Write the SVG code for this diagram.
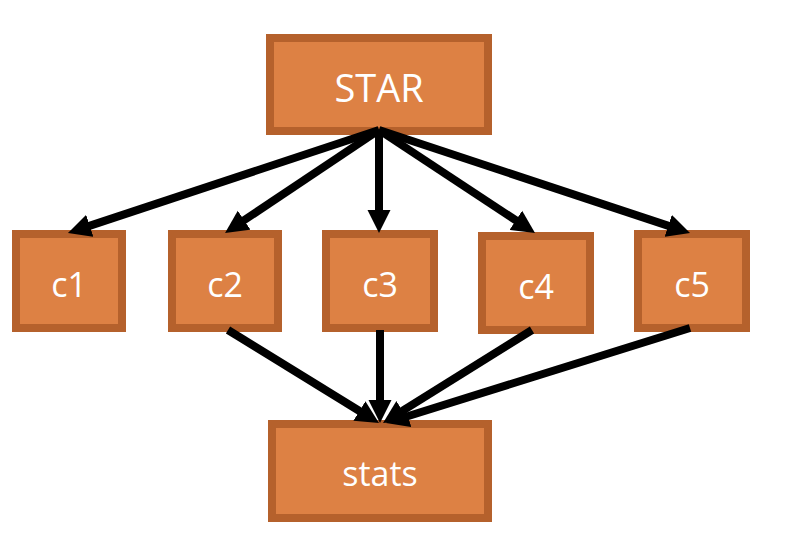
<svg xmlns="http://www.w3.org/2000/svg" width="786" height="550" viewBox="0 0 786 550">
<defs>
<style>
.box{fill:#DD8144;stroke:#B5612C;stroke-width:8}
.lbl{fill:#ffffff;font-family:"Open Sans","Liberation Sans",sans-serif;font-size:34px;text-anchor:middle}
.big{font-size:38px}
.edge{stroke:#000;stroke-width:8;fill:none;stroke-linecap:butt}
</style>
<marker id="ah" markerUnits="userSpaceOnUse" markerWidth="24" markerHeight="24" viewBox="0 0 24 24" refX="2" refY="12" orient="auto">
<path d="M0,0.5 L23,12 L0,23.5 z" fill="#000"/>
</marker>
</defs>
<rect width="786" height="550" fill="#ffffff"/>
<g id="STAR"><rect class="box" x="270" y="38" width="218" height="93"/><text class="lbl big" x="379" y="102">STAR</text></g>
<g id="c1"><rect class="box" x="16" y="234" width="106" height="94"/><text class="lbl" x="69" y="297">c1</text></g>
<g id="c2"><rect class="box" x="172" y="234" width="106" height="94"/><text class="lbl" x="225" y="297">c2</text></g>
<g id="c3"><rect class="box" x="326" y="234" width="108" height="94"/><text class="lbl" x="380" y="297">c3</text></g>
<g id="c4"><rect class="box" x="482" y="236" width="108" height="94"/><text class="lbl" x="536" y="299">c4</text></g>
<g id="c5"><rect class="box" x="638" y="234" width="108" height="94"/><text class="lbl" x="692" y="297">c5</text></g>
<g id="stats"><rect class="box" x="272" y="424" width="216" height="94"/><text class="lbl" x="380" y="486">stats</text></g>
<g id="connectors">
<line class="edge" x1="379" y1="130" x2="87.9" y2="226.4" marker-end="url(#ah)"/>
<line class="edge" x1="379" y1="130" x2="242.5" y2="221.3" marker-end="url(#ah)"/>
<line class="edge" x1="379" y1="130" x2="379" y2="212" marker-end="url(#ah)"/>
<line class="edge" x1="379" y1="130" x2="517.5" y2="221.4" marker-end="url(#ah)"/>
<line class="edge" x1="379" y1="130" x2="670.1" y2="226.4" marker-end="url(#ah)"/>
<line class="edge" x1="228" y1="330" x2="361.1" y2="412" marker-end="url(#ah)"/>
<line class="edge" x1="380" y1="330" x2="380" y2="402" marker-end="url(#ah)"/>
<line class="edge" x1="532" y1="330" x2="400.8" y2="411.9" marker-end="url(#ah)"/>
<line class="edge" x1="690" y1="328" x2="406" y2="416.7" marker-end="url(#ah)"/>
</g>
</svg>
